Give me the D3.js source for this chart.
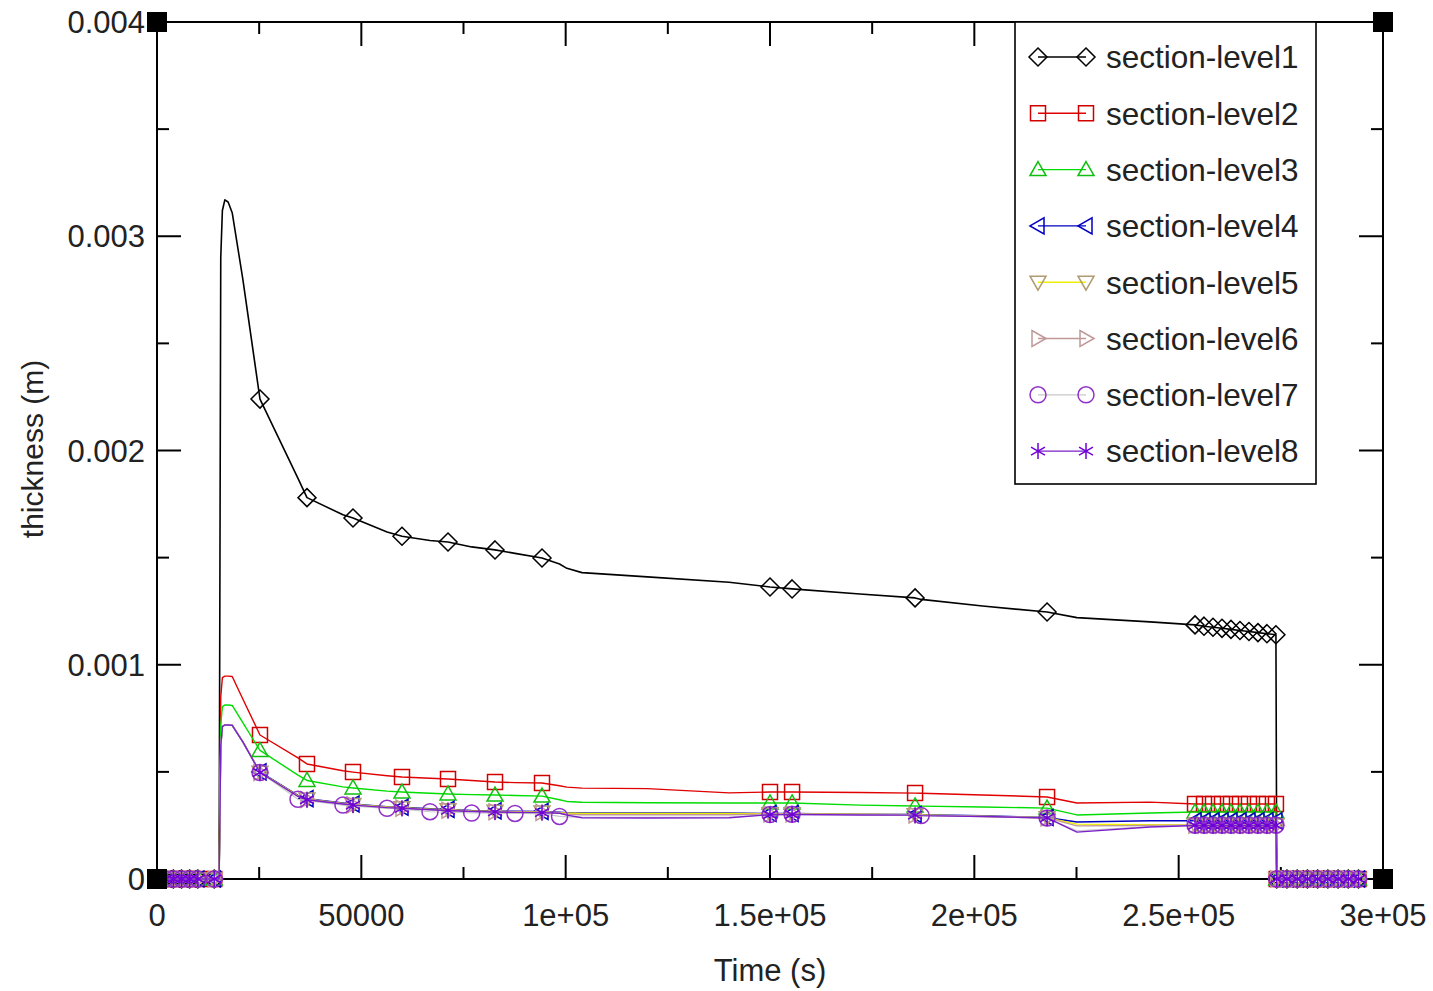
<!DOCTYPE html>
<html>
<head>
<meta charset="utf-8">
<script src="https://cdn.jsdelivr.net/npm/d3@7"></script>
<style>
  body { margin: 0; background: #fff; }
  svg { display: block; font-family: 'Liberation Sans', Arial, sans-serif; }
</style>
</head>
<body>
<svg id="chart" width="1433" height="991"></svg>
<script>
// shared time axis (s), one value per series at each time
const time = [0, 2000, 4000, 6000, 8000, 10000, 14000, 15200, 15600, 16000, 16600, 17400, 18400, 21000,
  25200, 34500, 36700, 45500, 47960, 56300, 59950, 66800, 71210, 77000, 82710, 87600, 94210, 98500, 100300, 104000, 120000, 140000,
  150000, 155400, 172000, 185500, 187000, 202000, 217800, 225100, 243000,
  254000, 256200, 258400, 260600, 262800, 265000, 267200, 269400, 271600, 273800,
  274000, 276500, 279000, 281500, 284000, 286500, 289000, 291500, 294000]

const level1 = [0, 0, 0, 0, 0, 0, 0, 0, 0.0029, 0.00312, 0.00317, 0.00316, 0.00311, 0.0028,
  0.00224, 0.00187, 0.00178, 0.0017, 0.001685, 0.00162, 0.0016, 0.00158, 0.001573, 0.00155, 0.001536, 0.00152, 0.001498, 0.00147, 0.00145, 0.00143, 0.00141, 0.001385,
  0.001363, 0.001354, 0.00133, 0.001312, 0.001305, 0.001274, 0.001246, 0.00122, 0.0012,
  0.001186, 0.00118, 0.001175, 0.00117, 0.001165, 0.00116, 0.001155, 0.00115, 0.001145, 0.00114,
  0, 0, 0, 0, 0, 0, 0, 0, 0]

const level2 = [0, 0, 0, 0, 0, 0, 0, 0, 0.00085, 0.00094, 0.000947, 0.000947, 0.000945, 0.00084,
  0.000672, 0.000565, 0.000537, 0.000505, 0.000499, 0.000482, 0.000476, 0.00047, 0.000467, 0.00046, 0.000453, 0.00045, 0.000448, 0.000435, 0.000429, 0.000424, 0.000422, 0.000402,
  0.000406, 0.000406, 0.000404, 0.000401, 0.0004, 0.000392, 0.000383, 0.000355, 0.000359,
  0.00035, 0.00035, 0.00035, 0.00035, 0.00035, 0.00035, 0.00035, 0.00035, 0.00035, 0.00035,
  0, 0, 0, 0, 0, 0, 0, 0, 0]

const level3 = [0, 0, 0, 0, 0, 0, 0, 0, 0.00072, 0.000805, 0.000812, 0.000812, 0.00081, 0.00073,
  0.0006, 0.000485, 0.00046, 0.00043, 0.000425, 0.00041, 0.000406, 0.0004, 0.000397, 0.000394, 0.000392, 0.00039, 0.000387, 0.00037, 0.000362, 0.000358, 0.000356, 0.000355,
  0.000355, 0.000355, 0.000345, 0.000341, 0.00034, 0.000336, 0.000331, 0.000299, 0.000308,
  0.000313, 0.000313, 0.000313, 0.000313, 0.000313, 0.000313, 0.000313, 0.000313, 0.000313, 0.000313,
  0, 0, 0, 0, 0, 0, 0, 0, 0]

const level4 = [0, 0, 0, 0, 0, 0, 0, 0, 0.00062, 0.000712, 0.00072, 0.00072, 0.000718, 0.00064,
  0.0005, 0.00039, 0.000375, 0.000355, 0.00035, 0.000338, 0.000335, 0.000328, 0.000325, 0.00032, 0.000318, 0.000316, 0.000315, 0.000312, 0.00031, 0.000308, 0.000308, 0.000308,
  0.000306, 0.000306, 0.000303, 0.000301, 0.0003, 0.000295, 0.000287, 0.000266, 0.000272,
  0.000272, 0.000272, 0.000272, 0.000272, 0.000272, 0.000272, 0.000272, 0.000272, 0.000272, 0.000272,
  0, 0, 0, 0, 0, 0, 0, 0, 0]

const level5 = [0, 0, 0, 0, 0, 0, 0, 0, 0.00062, 0.000711, 0.000719, 0.000719, 0.000717, 0.00064,
  0.000498, 0.000388, 0.000373, 0.000353, 0.000348, 0.000336, 0.000333, 0.000326, 0.000323, 0.000318, 0.000316, 0.000314, 0.000313, 0.00031, 0.000308, 0.000306, 0.000306, 0.000306,
  0.000305, 0.000305, 0.000302, 0.0003, 0.000299, 0.000293, 0.000286, 0.000256, 0.000253,
  0.000252, 0.000252, 0.000252, 0.000252, 0.000252, 0.000252, 0.000252, 0.000252, 0.000252, 0.000252,
  0, 0, 0, 0, 0, 0, 0, 0, 0]

const level6 = [0, 0, 0, 0, 0, 0, 0, 0, 0.00062, 0.000711, 0.000719, 0.000719, 0.000717, 0.00064,
  0.000497, 0.000386, 0.000371, 0.000351, 0.000346, 0.000334, 0.000331, 0.000324, 0.000321, 0.000316, 0.000314, 0.000312, 0.000311, 0.000308, 0.000302, 0.0003, 0.0003, 0.0003,
  0.000303, 0.000304, 0.000301, 0.000299, 0.000297, 0.000292, 0.000285, 0.000248, 0.00025,
  0.000251, 0.000251, 0.000251, 0.000251, 0.000251, 0.000251, 0.000251, 0.000251, 0.000251, 0.000251,
  0, 0, 0, 0, 0, 0, 0, 0, 0]

const level7 = [0, 0, 0, 0, 0, 0, 0, 0, 0.00062, 0.000711, 0.000719, 0.000719, 0.000717, 0.00064,
  0.000497, 0.000372, 0.000366, 0.000345, 0.00034, 0.00033, 0.000326, 0.000314, 0.000312, 0.000308, 0.000307, 0.000306, 0.000305, 0.000292, 0.00029, 0.000288, 0.000288, 0.000288,
  0.000301, 0.000302, 0.0003, 0.000298, 0.000296, 0.000292, 0.000285, 0.000225, 0.000245,
  0.000251, 0.000251, 0.000251, 0.000251, 0.000251, 0.000251, 0.000251, 0.000251, 0.000251, 0.000251,
  0, 0, 0, 0, 0, 0, 0, 0, 0]

const level8 = [0, 0, 0, 0, 0, 0, 0, 0, 0.00062, 0.000711, 0.000719, 0.000719, 0.000717, 0.00064,
  0.000497, 0.000385, 0.00037, 0.00035, 0.000345, 0.000333, 0.00033, 0.000323, 0.00032, 0.000315, 0.000313, 0.000311, 0.00031, 0.000307, 0.000298, 0.000286, 0.000285, 0.000286,
  0.0003, 0.000301, 0.000299, 0.000298, 0.000296, 0.000292, 0.000285, 0.000219, 0.000243,
  0.00025, 0.00025, 0.00025, 0.00025, 0.00025, 0.00025, 0.00025, 0.00025, 0.00025, 0.00025,
  0, 0, 0, 0, 0, 0, 0, 0, 0]

// times that carry a marker
const markTimes = [0, 2000, 4000, 6000, 8000, 10000, 14000, 25200, 36700, 47960, 59950, 71210, 82710, 94210,
  150000, 155400, 185500, 217800,
  254000, 256200, 258400, 260600, 262800, 265000, 267200, 269400, 271600, 273800,
  274000, 276500, 279000, 281500, 284000, 286500, 289000, 291500, 294000]
const markTimesLevel7 = [0, 2000, 4000, 6000, 8000, 10000, 14000, 25200, 34500, 45500, 56300, 66800, 77000, 87600, 98500,
  150000, 155400, 187000, 217800,
  254000, 256200, 258400, 260600, 262800, 265000, 267200, 269400, 271600, 273800,
  274000, 276500, 279000, 281500, 284000, 286500, 289000, 291500, 294000]

const seriesNames = ['section-level1', 'section-level2', 'section-level3', 'section-level4',
  'section-level5', 'section-level6', 'section-level7', 'section-level8']

const xTickValues = [0, 50000, 100000, 150000, 200000, 250000, 300000]
const xTickLabels = ['0', '50000', '1e+05', '1.5e+05', '2e+05', '2.5e+05', '3e+05']
const yTickValues = [0, 0.001, 0.002, 0.003, 0.004]
const yTickLabels = ['0', '0.001', '0.002', '0.003', '0.004']

const plot = { left: 157, right: 1383, top: 22, bottom: 879 }

const styles = [
  { line: '#000000', mark: '#000000', shape: 'diamond', width: 1.6 },
  { line: '#e00000', mark: '#d00000', shape: 'square', width: 1.4 },
  { line: '#00dd00', mark: '#10c010', shape: 'triUp', width: 1.4 },
  { line: '#0000c0', mark: '#0000c0', shape: 'triLeft', width: 1.4 },
  { line: '#eeee00', mark: '#b09a70', shape: 'triDown', width: 1.4 },
  { line: '#c09898', mark: '#c09898', shape: 'triRight', width: 1.4 },
  { line: '#c8c8c8', mark: '#9030c8', shape: 'circle', width: 1.2 },
  { line: '#7a20c8', mark: '#7000d8', shape: 'asterisk', width: 1.4 }
]

const svg = d3.select('#chart')

const x = d3.scaleLinear().domain([0, 300000]).range([plot.left, plot.right])
const y = d3.scaleLinear().domain([0, 0.004]).range([plot.bottom, plot.top])

/**
 * Path string for a marker shape centred on 0,0.
 *
 * @param {string} shape - The shape name.
 * @returns {string} - The path.
 */
function markerPath (shape) {
  const r = 8
  const k = 0.75
  switch (shape) {
    case 'diamond': return `M0,${-r - 1}L${r + 1},0L0,${r + 1}L${-r - 1},0Z`
    case 'square': return `M${-r + 0.5},${-r + 0.5}H${r - 0.5}V${r - 0.5}H${-r + 0.5}Z`
    case 'triUp': return `M0,${-r}L${r},${r * k}L${-r},${r * k}Z`
    case 'triDown': return `M0,${r}L${r},${-r * k}L${-r},${-r * k}Z`
    case 'triLeft': return `M${-r},0L${r * k},${-r}L${r * k},${r}Z`
    case 'triRight': return `M${r},0L${-r * k},${-r}L${-r * k},${r}Z`
    case 'circle': return `M${r},0A${r},${r} 0 1,1 ${-r},0A${r},${r} 0 1,1 ${r},0Z`
    case 'asterisk': {
      const c = r * 0.87
      const s = r * 0.5
      return `M0,${-r}V${r}M${-c},${-s}L${c},${s}M${-c},${s}L${c},${-s}`
    }
  }
  return ''
}

/**
 * Draw the frame, ticks and labels.
 */
function drawAxes () {
  const minorX = d3.range(0, 300001, 25000).filter(v => v % 50000 !== 0)
  const minorY = d3.range(0, 0.00401, 0.0005).filter((v, i) => i % 2 === 1)
  const axes = svg.append('g').attr('stroke', '#000')

  axes.append('rect')
    .attr('x', plot.left).attr('y', plot.top)
    .attr('width', plot.right - plot.left).attr('height', plot.bottom - plot.top)
    .attr('fill', 'none').attr('stroke-width', 2)

  const xt = xTickValues.map(v => ({ v, len: 24 })).concat(minorX.map(v => ({ v, len: 12 })))
  xt.forEach(t => {
    axes.append('line').attr('x1', x(t.v)).attr('x2', x(t.v))
      .attr('y1', plot.bottom).attr('y2', plot.bottom - t.len).attr('stroke-width', 2)
    axes.append('line').attr('x1', x(t.v)).attr('x2', x(t.v))
      .attr('y1', plot.top).attr('y2', plot.top + t.len).attr('stroke-width', 2)
  })
  const yt = yTickValues.map(v => ({ v, len: 24 })).concat(minorY.map(v => ({ v, len: 12 })))
  yt.forEach(t => {
    axes.append('line').attr('y1', y(t.v)).attr('y2', y(t.v))
      .attr('x1', plot.left).attr('x2', plot.left + t.len).attr('stroke-width', 2)
    axes.append('line').attr('y1', y(t.v)).attr('y2', y(t.v))
      .attr('x1', plot.right).attr('x2', plot.right - t.len).attr('stroke-width', 2)
  })

  svg.append('g').selectAll('text')
    .data(xTickValues)
    .enter()
    .append('text')
    .attr('x', d => x(d))
    .attr('y', 926)
    .attr('text-anchor', 'middle')
    .attr('font-size', '31px')
    .attr('fill', '#222')
    .text((d, i) => xTickLabels[i])

  svg.append('g').selectAll('text')
    .data(yTickValues)
    .enter()
    .append('text')
    .attr('x', 145)
    .attr('y', d => y(d))
    .attr('dy', '0.36em')
    .attr('text-anchor', 'end')
    .attr('font-size', '31px')
    .attr('fill', '#222')
    .text((d, i) => yTickLabels[i])

  svg.append('text')
    .attr('x', 770).attr('y', 981)
    .attr('text-anchor', 'middle')
    .attr('font-size', '31px')
    .attr('fill', '#222')
    .text('Time (s)')

  svg.append('text')
    .attr('transform', 'translate(43, 449) rotate(-90)')
    .attr('text-anchor', 'middle')
    .attr('font-size', '30px')
    .attr('fill', '#222')
    .text('thickness (m)')
}

/**
 * Draw one series as a line with markers.
 *
 * @param {Array} values - Values aligned with time.
 * @param {object} st - Style of the series.
 * @param {Array} marks - Times that get a marker.
 */
function drawSeries (values, st, marks) {
  const pts = time.map((t, i) => [t, values[i]])
  const line = d3.line()
    .x(d => x(d[0]))
    .y(d => y(d[1]))

  svg.append('path')
    .datum(pts)
    .attr('d', line)
    .attr('fill', 'none')
    .attr('stroke', st.line)
    .attr('stroke-width', st.width)
    .attr('stroke-linejoin', 'round')

  svg.append('g').selectAll('path')
    .data(pts.filter(d => marks.includes(d[0])))
    .enter()
    .append('path')
    .attr('transform', d => `translate(${x(d[0])},${y(d[1])})`)
    .attr('d', markerPath(st.shape))
    .attr('fill', 'none')
    .attr('stroke', st.mark)
    .attr('stroke-width', 1.5)
}

/**
 * Legend box at top right.
 */
function drawLegend () {
  const legend = svg.append('g')
  legend.append('rect')
    .attr('x', 1015).attr('y', plot.top)
    .attr('width', 301).attr('height', 462)
    .attr('fill', '#fff').attr('stroke', '#000').attr('stroke-width', 1.6)

  seriesNames.forEach((name, i) => {
    const cy = 57 + i * 56.3
    const st = styles[i]
    legend.append('line')
      .attr('x1', 1038).attr('x2', 1086)
      .attr('y1', cy).attr('y2', cy)
      .attr('stroke', st.line).attr('stroke-width', st.width)
    ;[1038, 1086].forEach(mx => {
      legend.append('path')
        .attr('transform', `translate(${mx},${cy})`)
        .attr('d', markerPath(st.shape))
        .attr('fill', 'none')
        .attr('stroke', st.mark)
        .attr('stroke-width', 1.5)
    })
    legend.append('text')
      .attr('x', 1106).attr('y', cy)
      .attr('dy', '0.36em')
      .attr('font-size', '31.5px')
      .attr('fill', '#222')
      .text(name)
  })
}

/**
 * Filled squares at the four corners of the frame.
 */
function drawCorners () {
  const corners = [[plot.left, plot.top], [plot.right, plot.top], [plot.left, plot.bottom], [plot.right, plot.bottom]]
  svg.append('g').selectAll('rect')
    .data(corners)
    .enter()
    .append('rect')
    .attr('x', d => d[0] - 10).attr('y', d => d[1] - 10)
    .attr('width', 20).attr('height', 20)
    .attr('fill', '#000')
}

svg.append('rect').attr('width', 1433).attr('height', 991).attr('fill', '#fff')
drawAxes()
const allLevels = [level1, level2, level3, level4, level5, level6, level7, level8]
allLevels.forEach((vals, i) => {
  drawSeries(vals, styles[i], i === 6 ? markTimesLevel7 : markTimes)
})
drawLegend()
drawCorners()
</script>
</body>
</html>
